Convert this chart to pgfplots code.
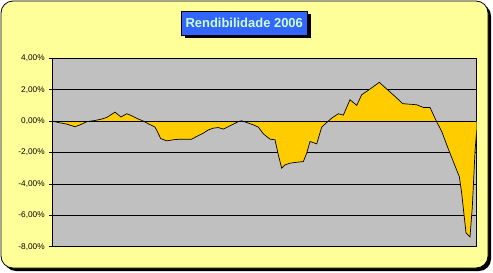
\documentclass[border=0pt]{standalone}
\usepackage{pgfplots}
\pgfplotsset{compat=1.18}
\usepackage{fontspec}
\setmainfont{Liberation Sans}
\definecolor{bgyel}{HTML}{FFFF99}
\definecolor{plotgray}{HTML}{C0C0C0}
\definecolor{areayel}{HTML}{FFCC00}
\definecolor{titleblue}{HTML}{3366FF}
\definecolor{titletext}{HTML}{CCFFCC}
\pgfplotstableread{
x y
52.7 0
58.3 -0.09
66.7 -0.19
75 -0.36
80 -0.24
86.7 -0.04
95 0.04
101.7 0.13
106.7 0.23
115 0.57
121 0.26
126.7 0.47
131.7 0.34
138.3 0.13
143.3 0
148.3 -0.17
155 -0.38
157.3 -0.66
160.7 -1.11
166.7 -1.26
173.3 -1.19
180 -1.15
191.7 -1.15
196.7 -0.98
203.3 -0.77
208.3 -0.56
213.3 -0.45
218.3 -0.41
223.3 -0.51
230 -0.30
238.3 -0.03
241.7 0.02
246.7 -0.09
253.3 -0.24
258.3 -0.38
263.3 -0.81
270 -1.15
275 -1.19
278.3 -2.15
281.7 -3.00
285 -2.79
290 -2.68
296.7 -2.62
303.3 -2.58
306.7 -2.04
310 -1.30
313.3 -1.37
316.7 -1.45
321.7 -0.38
326.7 -0.09
331.7 0.19
338.3 0.47
343.3 0.38
350 1.36
356.7 1.00
361.7 1.68
366.7 1.89
379.3 2.47
386.7 2.04
395 1.57
402.7 1.11
416.7 1.04
423.3 0.87
430 0.87
436 0.04
441.7 -0.66
446.7 -1.51
453.3 -2.58
459.3 -3.54
461.7 -4.61
466 -7.12
470 -7.37
472.3 -5.46
475 -1.94
476.7 -0.56
}\datatab
\begin{document}
\begin{tikzpicture}[x=1bp,y=1bp]
\useasboundingbox (0,0) rectangle (493,272);
% chart area with shadow
\fill[black,rounded corners=12bp] (4,1) rectangle (491,268);
\fill[bgyel,draw=black,line width=0.8bp,rounded corners=12bp] (1,4) rectangle (488,271);
% title box
\fill[black] (184.5,234) rectangle (310.5,258);
\node[fill=titleblue,draw=black,line width=0.8bp,minimum width=126bp,minimum height=24bp,inner sep=0pt,anchor=center,text=titletext,font=\fontsize{13}{15}\selectfont\bfseries] at (244.2,249) {Rendibilidade 2006};
\begin{axis}[
  at={(52.7bp,25.3bp)}, anchor=south west,
  scale only axis, width=424bp, height=188.4bp,
  xmin=52.7, xmax=476.7, ymin=-8, ymax=4,
  axis background/.style={fill=plotgray},
  axis line style={black,line width=0.8bp},
  xtick=\empty,
  ytick={-8,-6,-4,-2,0,2,4},
  yticklabels={-8{,}00\%,-6{,}00\%,-4{,}00\%,-2{,}00\%,0{,}00\%,2{,}00\%,4{,}00\%},
  ytick pos=left, tick align=outside, major tick length=3.5bp,
  tick style={black,line width=0.8bp},
  yticklabel style={font=\fontsize{8.3}{10}\selectfont, xshift=-1bp},
  ymajorgrids, grid style={black,line width=0.8bp},
  clip=true,
]
\addplot[fill=areayel,draw=none] table[x=x,y=y]{\datatab} \closedcycle;
\addplot[black,line width=0.7bp,mark=none] table[x=x,y=y]{\datatab};
\draw[black,line width=0.8bp] (axis cs:52.7,0) -- (axis cs:476.7,0);
\end{axis}
\end{tikzpicture}
\end{document}
